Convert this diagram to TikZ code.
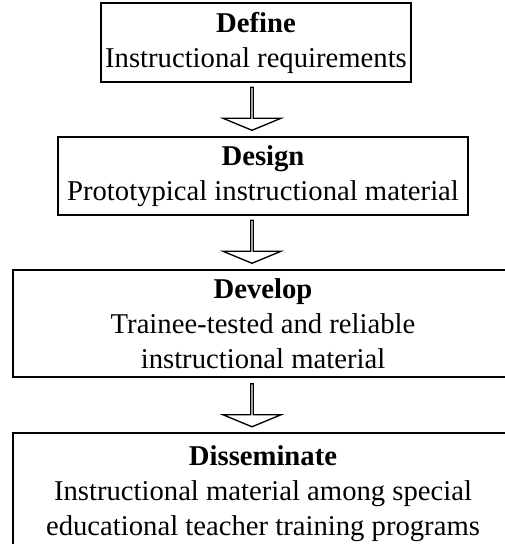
\documentclass[tikz,border=0pt]{standalone}
\usepackage{fontspec}
\setmainfont{Liberation Serif}
\usetikzlibrary{shapes.arrows}

\begin{document}
\begin{tikzpicture}[x=0.75pt,y=-0.75pt,
		stagebox/.style={rectangle,draw,line width=1.4pt,inner sep=0pt,align=center,
			font=\fontsize{21.5}{26.25}\selectfont},
		downarrow/.style={single arrow,draw,fill=white,line width=1pt,inner sep=0pt,
			shape border rotate=270,minimum height=32.25pt,minimum width=43.5pt,
			single arrow head extend=10.5pt,single arrow tip angle=135}]
		\useasboundingbox (0,0) rectangle (505,544);
		\clip (0,0) rectangle (505,544);

		% Stages of the model
		\node[stagebox,minimum width=232.5pt,minimum height=59.25pt] (define) at (256,42.5)
			{\textbf{Define}\\Instructional requirements};
		\node[stagebox,minimum width=307.5pt,minimum height=58.5pt] (design) at (263,176)
			{\textbf{Design}\\Prototypical instructional material};
		\node[stagebox,minimum width=375pt,minimum height=80.25pt] (develop) at (263,323.5)
			{\textbf{Develop}\\Trainee-tested and reliable\\instructional material};
		\node[stagebox,minimum width=375pt,minimum height=91.5pt] (disseminate) at (263,494)
			{\textbf{Disseminate}\\Instructional material among special\\educational teacher training programs};

		% Block arrows between the stages
		\node[downarrow] (a1) at (252,108.5) {};
		\node[downarrow] (a2) at (252,241.5) {};
		\node[downarrow] (a3) at (252,405) {};
	\end{tikzpicture}
\end{document}
